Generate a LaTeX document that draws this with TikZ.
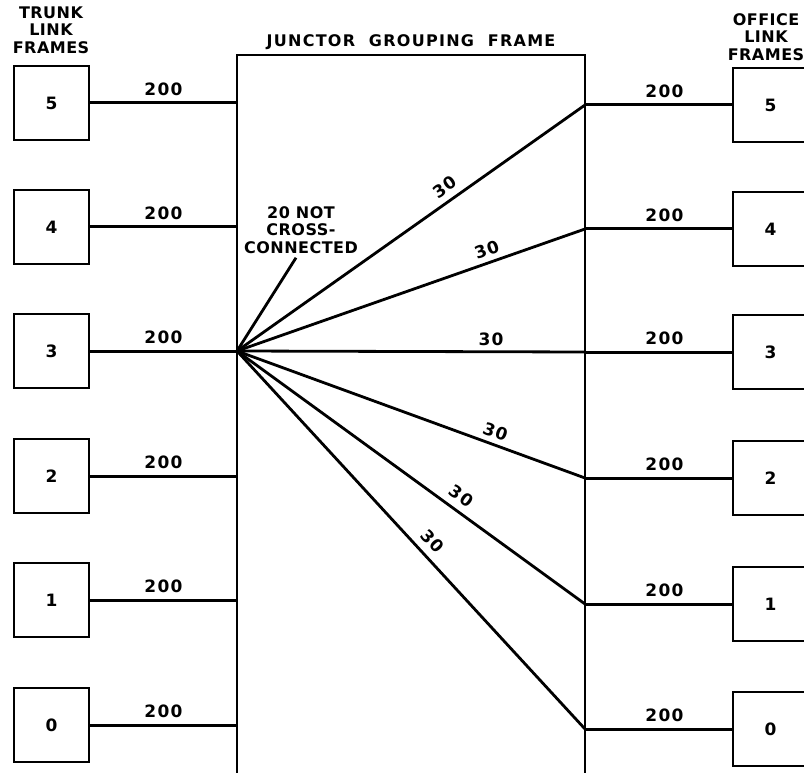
\documentclass[tikz,border=0pt]{standalone}
\usepackage{fontspec}
\setmainfont[LetterSpace=8]{DejaVu Sans}
\newfontfamily\hfont[LetterSpace=3]{DejaVu Sans}
\begin{document}
\begin{tikzpicture}[x=1pt,y=-1pt,
  lbl/.style={font=\fontsize{17}{18}\bfseries, inner sep=1pt},
  frm/.style={draw, line width=1.8pt, minimum width=75pt, minimum height=74pt, inner sep=0pt, font=\fontsize{17}{18}\bfseries},
  wire/.style={line width=3pt},
  fan/.style={line width=2.8pt},
  hdr/.style={font=\hfont\fontsize{16}{17.5}\bfseries, align=center, inner sep=0pt}]
\useasboundingbox (0,0) rectangle (804,773);
\clip (0,0) rectangle (804,773);
% headers
\node[hdr] (hl) at (51,30) {TRUNK\\LINK\\FRAMES};
\node[hdr] (hr) at (766,37) {OFFICE\\LINK\\FRAMES};
\node[hdr, font=\fontsize{16}{17}\bfseries] (hj) at (411,42) {JUNCTOR\ \ GROUPING\ \ FRAME};
% junctor frame
\draw[line width=1.8pt] (237,775) -- (237,55) -- (585,55) -- (585,775);
% left boxes and junctions
\foreach \n/\y in {5/103,4/227,3/351,2/476,1/600,0/725}{
  \node[frm] (L\n) at (51.5,\y) {\n};
  \coordinate (LJ\n) at (237,\y);
  \draw[wire] (L\n.east) -- (LJ\n) node[lbl, pos=0.5, above=5pt] {200};
}
% right boxes and junctions
\foreach \n/\y in {5/105,4/229,3/352,2/478,1/604,0/729}{
  \node[frm] (R\n) at (770.5,\y) {\n};
  \coordinate (RJ\n) at (585,\y);
  \draw[wire] (RJ\n) -- (R\n.west) node[lbl, pos=0.54, above=5pt] {200};
}
% fan
\coordinate (F) at (237,351);
\draw[fan] (F) -- (RJ5) node[lbl, sloped, above=5pt, pos=0.62] {30};
\draw[fan] (F) -- (RJ4) node[lbl, sloped, above=4pt, pos=0.73] {30};
\draw[fan] (F) -- (RJ3) node[lbl, sloped, above=4pt, pos=0.73] {30};
\draw[fan] (F) -- (RJ2) node[lbl, sloped, above=4pt, pos=0.73] {30};
\draw[fan] (F) -- (RJ1) node[lbl, sloped, above=6pt, pos=0.62] {30};
\draw[fan] (F) -- (RJ0) node[lbl, sloped, above=6pt, pos=0.53] {30};
% not cross-connected
\node[hdr, inner sep=4pt] (NC) at (301,230) {20 NOT\\CROSS-\\CONNECTED};
\draw[fan] (F) -- (NC.south -| 296,0);
\end{tikzpicture}
\end{document}
